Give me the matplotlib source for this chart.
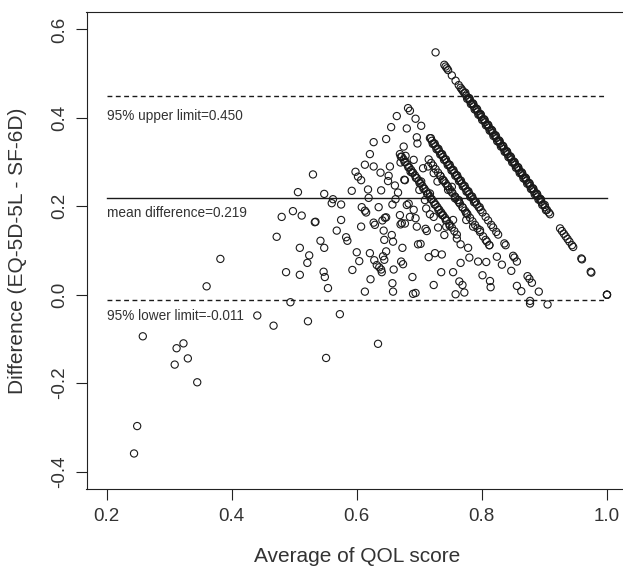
import matplotlib
matplotlib.use("Agg")
import matplotlib.pyplot as plt

# ---- summary statistics ----
upper_limit = 0.450
mean_diff = 0.219
lower_limit = -0.011

# ---- scattered points (average, difference) ----
scatter_avg = [0.244, 0.249, 0.258, 0.309, 0.312, 0.323, 0.330, 0.345, 0.360, 0.382,
               0.441, 0.467, 0.472, 0.480, 0.487, 0.494, 0.498, 0.506, 0.509, 0.509,
               0.512, 0.521, 0.522, 0.524, 0.530, 0.533, 0.534, 0.542, 0.547, 0.548,
               0.548, 0.549, 0.551, 0.554, 0.560, 0.562, 0.568, 0.573, 0.575, 0.575,
               0.583, 0.585, 0.592, 0.593, 0.598, 0.600, 0.602, 0.604, 0.607, 0.607,
               0.608, 0.613, 0.613, 0.615, 0.618, 0.619, 0.613, 0.621, 0.621, 0.622,
               0.627, 0.627, 0.627, 0.628, 0.629, 0.632, 0.634, 0.635, 0.636, 0.638,
               0.639, 0.639, 0.640, 0.641, 0.642, 0.643, 0.644, 0.644, 0.645, 0.647,
               0.647, 0.647, 0.650, 0.651, 0.653, 0.655, 0.656, 0.657, 0.657, 0.658,
               0.658, 0.659, 0.661, 0.662, 0.664, 0.666, 0.669, 0.670, 0.671, 0.673,
               0.674, 0.675, 0.676, 0.677, 0.678, 0.680, 0.682, 0.683, 0.685, 0.689,
               0.690, 0.694, 0.694, 0.696, 0.697, 0.698, 0.702, 0.703, 0.710, 0.712,
               0.715, 0.717, 0.723, 0.725, 0.730, 0.735, 0.736, 0.740, 0.754, 0.758,
               0.764, 0.766, 0.766, 0.769, 0.772, 0.778, 0.780, 0.794, 0.801, 0.807,
               0.813, 0.814, 0.824, 0.832, 0.847, 0.856, 0.856, 0.863, 0.873, 0.876,
               0.880, 0.877, 0.877, 0.891, 0.905]
scatter_diff = [-0.359, -0.297, -0.094, -0.158, -0.121, -0.110, -0.144, -0.198, 0.019, 0.081,
                -0.047, -0.070, 0.131, 0.176, 0.051, -0.017, 0.189, 0.232, 0.106, 0.045,
                0.179, 0.072, -0.060, 0.089, 0.272, 0.164, 0.165, 0.122, 0.052, 0.228,
                0.106, 0.040, -0.143, 0.015, 0.207, 0.216, 0.145, -0.044, 0.204, 0.169,
                0.130, 0.122, 0.235, 0.056, 0.278, 0.096, 0.267, 0.076, 0.259, 0.154,
                0.198, 0.190, 0.007, 0.186, 0.238, 0.219, 0.294, 0.318, 0.094, 0.035,
                0.345, 0.290, 0.163, 0.078, 0.158, 0.067, -0.111, 0.198, 0.062, 0.276,
                0.236, 0.057, 0.051, 0.168, 0.087, 0.145, 0.124, 0.079, 0.174, 0.175,
                0.098, 0.352, 0.257, 0.269, 0.290, 0.379, 0.135, 0.204, 0.026, 0.120,
                0.007, 0.057, 0.247, 0.216, 0.404, 0.231, 0.180, 0.159, 0.075, 0.106,
                0.069, 0.335, 0.260, 0.161, 0.314, 0.376, 0.422, 0.206, 0.416, 0.040,
                0.002, 0.004, 0.398, 0.356, 0.342, 0.114, 0.115, 0.382, 0.149, 0.144,
                0.085, 0.182, 0.022, 0.094, 0.152, 0.051, 0.091, 0.135, 0.051, 0.001,
                0.030, 0.072, 0.114, 0.022, 0.005, 0.106, 0.084, 0.075, 0.044, 0.074,
                0.031, 0.017, 0.086, 0.068, 0.054, 0.020, 0.075, 0.008, 0.042, 0.036,
                0.027, -0.020, -0.014, 0.007, -0.022]

# ---- points in the crowded middle area ----
mid_avg = [0.670, 0.677, 0.686, 0.691, 0.706, 0.714, 0.723, 0.729, 0.737, 0.746,
           0.752, 0.717, 0.703, 0.700, 0.709, 0.691, 0.680, 0.694, 0.711, 0.723,
           0.734, 0.743, 0.754, 0.757, 0.763, 0.775, 0.786, 0.797, 0.806, 0.812,
           0.760, 0.775, 0.685, 0.696, 0.672]
mid_diff = [0.299, 0.259, 0.278, 0.305, 0.286, 0.290, 0.275, 0.256, 0.259, 0.237,
            0.244, 0.229, 0.256, 0.237, 0.214, 0.192, 0.203, 0.173, 0.195, 0.176,
            0.184, 0.154, 0.169, 0.218, 0.214, 0.184, 0.154, 0.146, 0.124, 0.112,
            0.127, 0.169, 0.176, 0.154, 0.162]

# ---- band where EQ-5D-5L = 1 ----
eq1_avg = [0.726, 0.740, 0.742, 0.744, 0.746, 0.752, 0.758, 0.763, 0.766, 0.768,
           0.770, 0.772, 0.775, 0.778, 0.781, 0.784, 0.787, 0.790, 0.793, 0.796,
           0.799, 0.802, 0.805, 0.808, 0.811, 0.814, 0.817, 0.820, 0.823, 0.826,
           0.829, 0.832, 0.835, 0.838, 0.841, 0.844, 0.847, 0.850, 0.853, 0.856,
           0.859, 0.862, 0.865, 0.868, 0.871, 0.874, 0.877, 0.880, 0.883, 0.886,
           0.889, 0.892, 0.895, 0.898, 0.901, 0.904, 0.907, 0.909,
           0.7735, 0.7795, 0.7855, 0.7915, 0.7975, 0.8035, 0.8095, 0.8155, 0.8215,
           0.8275, 0.8335, 0.8395, 0.8455, 0.8515, 0.8575, 0.8635, 0.8695, 0.8755,
           0.8815, 0.8875, 0.8935,
           0.7765, 0.7825, 0.7885, 0.7945, 0.8005, 0.8065, 0.8125, 0.8185, 0.8245,
           0.8305, 0.8365, 0.8425, 0.8485, 0.8545, 0.8605, 0.8665, 0.8725, 0.8785,
           0.8845, 0.8905, 0.8965, 0.9025,
           0.7805, 0.7865, 0.7925, 0.7985, 0.8045, 0.8105, 0.8165, 0.8225, 0.8285,
           0.8345, 0.8405, 0.8465, 0.8525, 0.8585, 0.8645, 0.8705, 0.8765, 0.8825,
           0.8885, 0.8945, 0.9005,
           0.925, 0.928, 0.931, 0.934, 0.937, 0.940, 0.944, 0.946, 0.959, 0.960,
           0.974, 0.975, 1.000, 1.000, 1.000]
eq1_diff = [0.548, 0.520, 0.516, 0.512, 0.508, 0.496, 0.484, 0.474, 0.468, 0.464,
            0.460, 0.456, 0.450, 0.444, 0.438, 0.432, 0.426, 0.420, 0.414, 0.408,
            0.402, 0.396, 0.390, 0.384, 0.378, 0.372, 0.366, 0.360, 0.354, 0.348,
            0.342, 0.336, 0.330, 0.324, 0.318, 0.312, 0.306, 0.300, 0.294, 0.288,
            0.282, 0.276, 0.270, 0.264, 0.258, 0.252, 0.246, 0.240, 0.234, 0.228,
            0.222, 0.216, 0.210, 0.204, 0.198, 0.192, 0.186, 0.182,
            0.457, 0.445, 0.433, 0.421, 0.409, 0.397, 0.385, 0.373, 0.361,
            0.349, 0.337, 0.325, 0.313, 0.301, 0.289, 0.277, 0.265, 0.253,
            0.241, 0.229, 0.217,
            0.443, 0.431, 0.419, 0.407, 0.395, 0.383, 0.371, 0.359, 0.347,
            0.335, 0.323, 0.311, 0.299, 0.287, 0.275, 0.263, 0.251, 0.239,
            0.227, 0.215, 0.203, 0.191,
            0.443, 0.431, 0.419, 0.407, 0.395, 0.383, 0.371, 0.359, 0.347,
            0.335, 0.323, 0.311, 0.299, 0.287, 0.275, 0.263, 0.251, 0.239,
            0.227, 0.215, 0.203,
            0.150, 0.144, 0.138, 0.132, 0.126, 0.120, 0.112, 0.108, 0.082, 0.080,
            0.052, 0.050, 0.000, 0.000, 0.000]

# ---- second band ----
band2_avg = [0.717, 0.720, 0.723, 0.726, 0.729, 0.732, 0.735, 0.738, 0.741, 0.744,
             0.747, 0.750, 0.753, 0.756, 0.759, 0.762, 0.765, 0.768, 0.771, 0.774,
             0.777, 0.780, 0.783, 0.786, 0.789, 0.792, 0.795, 0.798, 0.801,
             0.806, 0.810, 0.815, 0.818, 0.823, 0.826, 0.836, 0.838, 0.850, 0.852,
             0.7185, 0.7245, 0.7305, 0.7365, 0.7425, 0.7485, 0.7545, 0.7605, 0.7665,
             0.7725, 0.7785, 0.7845, 0.7905, 0.7965,
             0.7215, 0.7275, 0.7335, 0.7395, 0.7455, 0.7515, 0.7575, 0.7635, 0.7695,
             0.7755, 0.7815, 0.7875]
band2_diff = [0.354, 0.348, 0.342, 0.336, 0.330, 0.324, 0.318, 0.312, 0.306, 0.300,
              0.294, 0.288, 0.282, 0.276, 0.270, 0.264, 0.258, 0.252, 0.246, 0.240,
              0.234, 0.228, 0.222, 0.216, 0.210, 0.204, 0.198, 0.192, 0.186,
              0.176, 0.168, 0.158, 0.152, 0.142, 0.136, 0.116, 0.112, 0.088, 0.084,
              0.354, 0.342, 0.330, 0.318, 0.306, 0.294, 0.282, 0.270, 0.258,
              0.246, 0.234, 0.222, 0.210, 0.198,
              0.341, 0.329, 0.317, 0.305, 0.293, 0.281, 0.269, 0.257, 0.245,
              0.233, 0.221, 0.209]

# ---- third band ----
band2b_avg = [0.715, 0.719, 0.722, 0.726, 0.730, 0.734, 0.738, 0.742, 0.745, 0.749,
              0.753, 0.757, 0.761, 0.765, 0.769, 0.773, 0.777, 0.781, 0.785, 0.789,
              0.793, 0.797, 0.802, 0.808, 0.812,
              0.7335, 0.7395, 0.7455, 0.7515, 0.7575, 0.7635, 0.7695, 0.7755]
band2b_diff = [0.306, 0.298, 0.292, 0.284, 0.276, 0.268, 0.260, 0.252, 0.246, 0.238,
               0.230, 0.222, 0.214, 0.206, 0.198, 0.190, 0.182, 0.174, 0.166, 0.158,
               0.150, 0.142, 0.132, 0.120, 0.112,
               0.269, 0.257, 0.245, 0.233, 0.221, 0.209, 0.197, 0.185]

# ---- fourth band ----
band3_avg = [0.669, 0.672, 0.675, 0.678, 0.681, 0.684, 0.687, 0.690, 0.693, 0.696,
             0.699, 0.702, 0.705, 0.708, 0.711, 0.714, 0.717, 0.720, 0.723, 0.726,
             0.729, 0.732, 0.735, 0.738, 0.741, 0.744, 0.748, 0.752, 0.756, 0.760,
             0.6705, 0.6765, 0.6825, 0.6885, 0.6945, 0.7005, 0.7065, 0.7125, 0.7185,
             0.7245, 0.7305, 0.7365, 0.7425, 0.7485]
band3_diff = [0.318, 0.312, 0.306, 0.300, 0.294, 0.288, 0.282, 0.276, 0.270, 0.264,
              0.258, 0.252, 0.246, 0.240, 0.234, 0.228, 0.222, 0.216, 0.210, 0.204,
              0.198, 0.192, 0.186, 0.180, 0.174, 0.168, 0.160, 0.152, 0.144, 0.136,
              0.312, 0.300, 0.288, 0.276, 0.264, 0.252, 0.240, 0.228, 0.216,
              0.204, 0.192, 0.180, 0.168, 0.156]

x_ticks = [0.2, 0.4, 0.6, 0.8, 1.0]
y_ticks = [-0.4, -0.2, 0.0, 0.2, 0.4, 0.6]

plt.rcParams['font.family'] = ['Liberation Sans', 'DejaVu Sans']
W, H = 623, 567
fig = plt.figure(figsize=(W / 100, H / 100), dpi=100)
left, right, top, bottom = 86.5, 627, 11.7, 489.3
ax = fig.add_axes([left / W, 1 - bottom / H, (right - left) / W, (bottom - top) / H])

all_x = scatter_avg + mid_avg + eq1_avg + band2_avg + band2b_avg + band3_avg
all_y = scatter_diff + mid_diff + eq1_diff + band2_diff + band2b_diff + band3_diff
ax.scatter(all_x, all_y, s=27, facecolors='none', edgecolors='#1a1a1a', linewidths=0.8, zorder=3)

ax.plot([0.2, 1.0], [upper_limit, upper_limit], color='#1a1a1a', lw=1.0, ls=(0, (3.5, 2.5)))
ax.plot([0.2, 1.0], [mean_diff, mean_diff], color='#1a1a1a', lw=1.0)
ax.plot([0.2, 1.0], [lower_limit, lower_limit], color='#1a1a1a', lw=1.0, ls=(0, (3.5, 2.5)))

tc = '#333333'
ax.text(0.2, 0.405, f"95% upper limit={upper_limit:.3f}", ha='left', va='center', fontsize=9.8, color=tc)
ax.text(0.2, 0.184, f"mean difference={mean_diff:.3f}", ha='left', va='center', fontsize=9.8, color=tc)
ax.text(0.2, -0.048, f"95% lower limit={lower_limit:.3f}", ha='left', va='center', fontsize=9.8, color=tc)

ax.set_xlim(0.168, 1.032)
ax.set_ylim(-0.44, 0.64)
ax.set_xticks(x_ticks)
ax.set_xticklabels([f"{v:.1f}" for v in x_ticks])
ax.set_yticks(y_ticks)
ax.set_yticklabels([f"{v:.1f}" for v in y_ticks], rotation=90, va='center')
ax.tick_params(direction='out', length=7.7, width=0.8, color='#222222', labelsize=13.5,
               labelcolor=tc, pad=5.5)
for sp in ax.spines.values():
    sp.set_linewidth(0.8)
    sp.set_color('#222222')

fig.text(357 / W, 1 - 557 / H, "Average of QOL score", ha='center', va='center', fontsize=15, color=tc)
fig.text(18 / W, 1 - 250.5 / H, "Difference (EQ-5D-5L - SF-6D)", ha='center', va='center',
         rotation=90, fontsize=15, color=tc)

fig.savefig("out.png", dpi=100)
